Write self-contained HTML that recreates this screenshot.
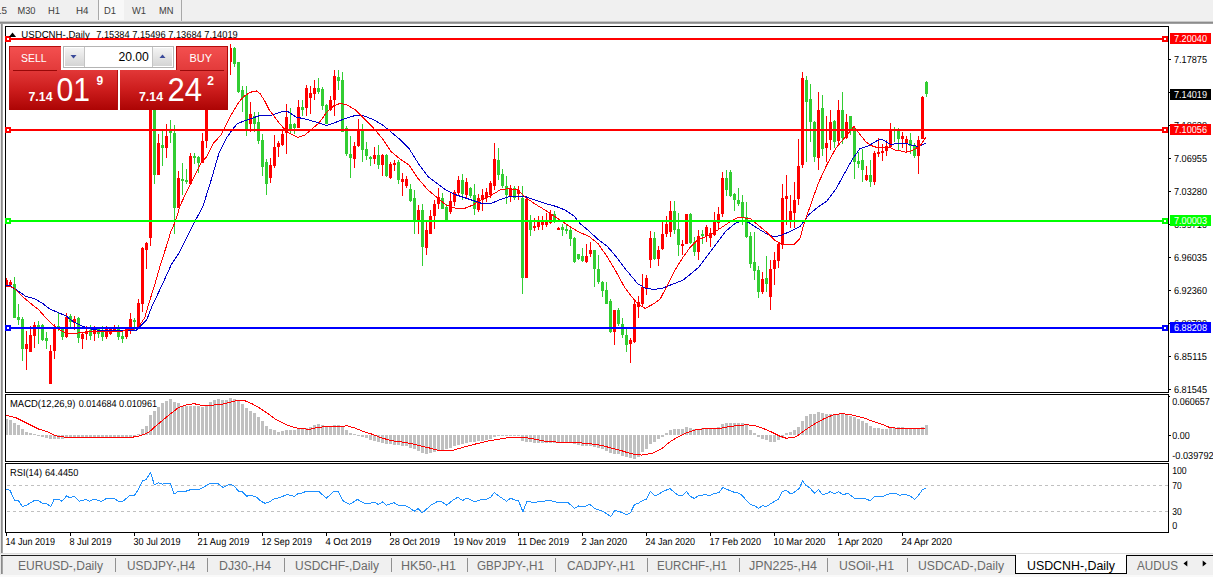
<!DOCTYPE html>
<html><head><meta charset="utf-8"><title>USDCNH-,Daily</title>
<style>
html,body{margin:0;padding:0;background:#fff;width:1213px;height:577px;overflow:hidden}
svg{display:block;position:absolute;left:0;top:0}
text{font-family:"Liberation Sans",sans-serif;white-space:pre}
</style></head><body>
<svg width="1213" height="577" viewBox="0 0 1213 577" shape-rendering="crispEdges">
<defs>
<linearGradient id="gsell" x1="0" y1="0" x2="0" y2="1"><stop offset="0" stop-color="#e23838"/><stop offset="0.5" stop-color="#cc1c1c"/><stop offset="1" stop-color="#ac0404"/></linearGradient>
<linearGradient id="gbtn" x1="0" y1="0" x2="0" y2="1"><stop offset="0" stop-color="#f45050"/><stop offset="1" stop-color="#e23a3a"/></linearGradient>
<linearGradient id="gsp" x1="0" y1="0" x2="0" y2="1"><stop offset="0" stop-color="#f4f4f4"/><stop offset="1" stop-color="#d4d4d4"/></linearGradient>
</defs>
<rect x="0" y="0" width="1213" height="577" fill="#fff"/>

<rect x="0" y="0" width="1213" height="21" fill="#f0f0f0"/>
<rect x="0" y="21" width="1213" height="1" fill="#c8c8c8"/>
<rect x="0" y="22" width="1213" height="1" fill="#8c8c8c"/>
<rect x="0" y="23" width="1213" height="1" fill="#a0a0a0"/>
<rect x="99" y="0" width="25" height="20" fill="#f8f8f8"/>
<rect x="98" y="0" width="1" height="20" fill="#a8a8a8"/>
<rect x="181" y="0" width="1" height="21" fill="#a8a8a8"/>
<text x="-4" y="14" font-size="10.2" fill="#404040" textLength="11" lengthAdjust="spacingAndGlyphs"  text-rendering="geometricPrecision">15</text>
<text x="17.5" y="14" font-size="10.2" fill="#404040" textLength="18" lengthAdjust="spacingAndGlyphs"  text-rendering="geometricPrecision">M30</text>
<text x="48" y="14" font-size="10.2" fill="#404040" textLength="12" lengthAdjust="spacingAndGlyphs"  text-rendering="geometricPrecision">H1</text>
<text x="76" y="14" font-size="10.2" fill="#404040" textLength="12.5" lengthAdjust="spacingAndGlyphs"  text-rendering="geometricPrecision">H4</text>
<text x="104" y="14" font-size="10.2" fill="#404040" textLength="12" lengthAdjust="spacingAndGlyphs"  text-rendering="geometricPrecision">D1</text>
<text x="132" y="14" font-size="10.2" fill="#404040" textLength="14" lengthAdjust="spacingAndGlyphs"  text-rendering="geometricPrecision">W1</text>
<text x="159" y="14" font-size="10.2" fill="#404040" textLength="14.5" lengthAdjust="spacingAndGlyphs"  text-rendering="geometricPrecision">MN</text>
<rect x="0" y="24" width="1" height="530" fill="#e6e6e6"/>
<rect x="1" y="24" width="1" height="530" fill="#8a8a8a"/>
<rect x="2" y="24" width="1" height="530" fill="#a6a6a6"/>
<path d="M5.5 26.5H1168.5V392.5H5.5Z" fill="none" stroke="#000" stroke-width="1"/>
<path d="M5.5 394.5H1168.5V461.5H5.5Z" fill="none" stroke="#000" stroke-width="1"/>
<path d="M5.5 463.5H1168.5V532.5H5.5Z" fill="none" stroke="#000" stroke-width="1"/>
<clipPath id="cm"><rect x="6" y="27" width="1162" height="365"/></clipPath>
<g clip-path="url(#cm)">
<rect x="6" y="278" width="1" height="9" fill="#ff0000"/>
<rect x="5" y="280" width="3" height="6" fill="#ff0000"/>
<rect x="10" y="280" width="1" height="7" fill="#ff0000"/>
<rect x="9" y="282" width="3" height="3" fill="#ff0000"/>
<rect x="14" y="277" width="1" height="41" fill="#32cd32"/>
<rect x="13" y="284" width="3" height="34" fill="#32cd32"/>
<rect x="18" y="304" width="1" height="21" fill="#32cd32"/>
<rect x="17" y="317" width="3" height="3" fill="#32cd32"/>
<rect x="22" y="317" width="1" height="44" fill="#32cd32"/>
<rect x="21" y="319" width="3" height="30" fill="#32cd32"/>
<rect x="26" y="331" width="1" height="39" fill="#ff0000"/>
<rect x="25" y="344" width="3" height="5" fill="#ff0000"/>
<rect x="30" y="326" width="1" height="26" fill="#ff0000"/>
<rect x="29" y="335" width="3" height="17" fill="#ff0000"/>
<rect x="34" y="322" width="1" height="26" fill="#ff0000"/>
<rect x="33" y="325" width="3" height="11" fill="#ff0000"/>
<rect x="38" y="321" width="1" height="23" fill="#32cd32"/>
<rect x="37" y="325" width="3" height="4" fill="#32cd32"/>
<rect x="42" y="324" width="1" height="17" fill="#32cd32"/>
<rect x="41" y="325" width="3" height="15" fill="#32cd32"/>
<rect x="46" y="332" width="1" height="17" fill="#32cd32"/>
<rect x="45" y="338" width="3" height="3" fill="#32cd32"/>
<rect x="50" y="345" width="1" height="39" fill="#ff0000"/>
<rect x="49" y="351" width="3" height="33" fill="#ff0000"/>
<rect x="54" y="324" width="1" height="35" fill="#ff0000"/>
<rect x="53" y="327" width="3" height="24" fill="#ff0000"/>
<rect x="58" y="312" width="1" height="19" fill="#32cd32"/>
<rect x="57" y="326" width="3" height="2" fill="#32cd32"/>
<rect x="62" y="327" width="1" height="13" fill="#32cd32"/>
<rect x="61" y="328" width="3" height="9" fill="#32cd32"/>
<rect x="66" y="313" width="1" height="25" fill="#ff0000"/>
<rect x="65" y="317" width="3" height="20" fill="#ff0000"/>
<rect x="70" y="314" width="1" height="14" fill="#32cd32"/>
<rect x="69" y="316" width="3" height="6" fill="#32cd32"/>
<rect x="74" y="316" width="1" height="14" fill="#ff0000"/>
<rect x="73" y="319" width="3" height="4" fill="#ff0000"/>
<rect x="78" y="317" width="1" height="26" fill="#32cd32"/>
<rect x="77" y="318" width="3" height="20" fill="#32cd32"/>
<rect x="82" y="332" width="1" height="17" fill="#ff0000"/>
<rect x="81" y="334" width="3" height="5" fill="#ff0000"/>
<rect x="86" y="326" width="1" height="14" fill="#ff0000"/>
<rect x="85" y="331" width="3" height="3" fill="#ff0000"/>
<rect x="90" y="325" width="1" height="15" fill="#32cd32"/>
<rect x="89" y="330" width="3" height="6" fill="#32cd32"/>
<rect x="94" y="326" width="1" height="15" fill="#ff0000"/>
<rect x="93" y="329" width="3" height="5" fill="#ff0000"/>
<rect x="98" y="327" width="1" height="11" fill="#32cd32"/>
<rect x="97" y="329" width="3" height="5" fill="#32cd32"/>
<rect x="102" y="326" width="1" height="15" fill="#32cd32"/>
<rect x="101" y="330" width="3" height="7" fill="#32cd32"/>
<rect x="106" y="326" width="1" height="13" fill="#ff0000"/>
<rect x="105" y="328" width="3" height="9" fill="#ff0000"/>
<rect x="110" y="327" width="1" height="8" fill="#ff0000"/>
<rect x="109" y="328" width="3" height="6" fill="#ff0000"/>
<rect x="114" y="325" width="1" height="7" fill="#ff0000"/>
<rect x="113" y="327" width="3" height="4" fill="#ff0000"/>
<rect x="118" y="325" width="1" height="15" fill="#32cd32"/>
<rect x="117" y="327" width="3" height="10" fill="#32cd32"/>
<rect x="122" y="332" width="1" height="11" fill="#32cd32"/>
<rect x="121" y="336" width="3" height="3" fill="#32cd32"/>
<rect x="126" y="327" width="1" height="12" fill="#ff0000"/>
<rect x="125" y="329" width="3" height="8" fill="#ff0000"/>
<rect x="130" y="313" width="1" height="21" fill="#ff0000"/>
<rect x="129" y="319" width="3" height="12" fill="#ff0000"/>
<rect x="134" y="318" width="1" height="12" fill="#32cd32"/>
<rect x="133" y="320" width="3" height="2" fill="#32cd32"/>
<rect x="138" y="299" width="1" height="28" fill="#ff0000"/>
<rect x="137" y="303" width="3" height="24" fill="#ff0000"/>
<rect x="142" y="247" width="1" height="65" fill="#ff0000"/>
<rect x="141" y="248" width="3" height="56" fill="#ff0000"/>
<rect x="146" y="242" width="1" height="27" fill="#ff0000"/>
<rect x="145" y="243" width="3" height="7" fill="#ff0000"/>
<rect x="150" y="100" width="1" height="146" fill="#ff0000"/>
<rect x="149" y="104" width="3" height="134" fill="#ff0000"/>
<rect x="154" y="90" width="1" height="94" fill="#32cd32"/>
<rect x="153" y="95" width="3" height="80" fill="#32cd32"/>
<rect x="158" y="134" width="1" height="41" fill="#ff0000"/>
<rect x="157" y="143" width="3" height="32" fill="#ff0000"/>
<rect x="162" y="129" width="1" height="37" fill="#32cd32"/>
<rect x="161" y="145" width="3" height="3" fill="#32cd32"/>
<rect x="166" y="124" width="1" height="34" fill="#ff0000"/>
<rect x="165" y="136" width="3" height="12" fill="#ff0000"/>
<rect x="170" y="120" width="1" height="23" fill="#32cd32"/>
<rect x="169" y="130" width="3" height="3" fill="#32cd32"/>
<rect x="174" y="125" width="1" height="109" fill="#32cd32"/>
<rect x="173" y="133" width="3" height="75" fill="#32cd32"/>
<rect x="178" y="171" width="1" height="37" fill="#ff0000"/>
<rect x="177" y="178" width="3" height="30" fill="#ff0000"/>
<rect x="182" y="163" width="1" height="32" fill="#32cd32"/>
<rect x="181" y="179" width="3" height="2" fill="#32cd32"/>
<rect x="186" y="169" width="1" height="15" fill="#32cd32"/>
<rect x="185" y="180" width="3" height="2" fill="#32cd32"/>
<rect x="190" y="153" width="1" height="32" fill="#ff0000"/>
<rect x="189" y="156" width="3" height="28" fill="#ff0000"/>
<rect x="194" y="153" width="1" height="11" fill="#32cd32"/>
<rect x="193" y="156" width="3" height="2" fill="#32cd32"/>
<rect x="198" y="156" width="1" height="17" fill="#32cd32"/>
<rect x="197" y="157" width="3" height="6" fill="#32cd32"/>
<rect x="202" y="133" width="1" height="30" fill="#ff0000"/>
<rect x="201" y="141" width="3" height="22" fill="#ff0000"/>
<rect x="206" y="100" width="1" height="48" fill="#ff0000"/>
<rect x="205" y="104" width="3" height="37" fill="#ff0000"/>
<rect x="230" y="44" width="1" height="31" fill="#ff0000"/>
<rect x="230" y="48" width="2" height="14" fill="#ff0000"/>
<rect x="234" y="47" width="1" height="20" fill="#32cd32"/>
<rect x="233" y="48" width="3" height="16" fill="#32cd32"/>
<rect x="238" y="62" width="1" height="31" fill="#32cd32"/>
<rect x="237" y="62" width="3" height="30" fill="#32cd32"/>
<rect x="242" y="86" width="1" height="26" fill="#32cd32"/>
<rect x="241" y="90" width="3" height="8" fill="#32cd32"/>
<rect x="246" y="86" width="1" height="50" fill="#32cd32"/>
<rect x="245" y="95" width="3" height="35" fill="#32cd32"/>
<rect x="250" y="102" width="1" height="30" fill="#ff0000"/>
<rect x="249" y="114" width="3" height="10" fill="#ff0000"/>
<rect x="254" y="112" width="1" height="20" fill="#32cd32"/>
<rect x="253" y="116" width="3" height="8" fill="#32cd32"/>
<rect x="258" y="112" width="1" height="32" fill="#32cd32"/>
<rect x="257" y="122" width="3" height="19" fill="#32cd32"/>
<rect x="262" y="134" width="1" height="42" fill="#32cd32"/>
<rect x="261" y="140" width="3" height="27" fill="#32cd32"/>
<rect x="266" y="159" width="1" height="36" fill="#32cd32"/>
<rect x="265" y="162" width="3" height="22" fill="#32cd32"/>
<rect x="270" y="158" width="1" height="25" fill="#ff0000"/>
<rect x="269" y="165" width="3" height="13" fill="#ff0000"/>
<rect x="274" y="135" width="1" height="33" fill="#ff0000"/>
<rect x="273" y="147" width="3" height="19" fill="#ff0000"/>
<rect x="278" y="141" width="1" height="16" fill="#ff0000"/>
<rect x="277" y="143" width="3" height="4" fill="#ff0000"/>
<rect x="282" y="130" width="1" height="16" fill="#ff0000"/>
<rect x="281" y="134" width="3" height="11" fill="#ff0000"/>
<rect x="286" y="104" width="1" height="50" fill="#ff0000"/>
<rect x="285" y="117" width="3" height="16" fill="#ff0000"/>
<rect x="290" y="108" width="1" height="25" fill="#32cd32"/>
<rect x="289" y="124" width="3" height="6" fill="#32cd32"/>
<rect x="294" y="123" width="1" height="11" fill="#32cd32"/>
<rect x="293" y="124" width="3" height="4" fill="#32cd32"/>
<rect x="298" y="100" width="1" height="28" fill="#ff0000"/>
<rect x="297" y="107" width="3" height="21" fill="#ff0000"/>
<rect x="302" y="100" width="1" height="16" fill="#32cd32"/>
<rect x="301" y="107" width="3" height="3" fill="#32cd32"/>
<rect x="306" y="85" width="1" height="31" fill="#ff0000"/>
<rect x="305" y="88" width="3" height="20" fill="#ff0000"/>
<rect x="310" y="86" width="1" height="28" fill="#ff0000"/>
<rect x="309" y="93" width="3" height="5" fill="#ff0000"/>
<rect x="314" y="80" width="1" height="20" fill="#ff0000"/>
<rect x="313" y="88" width="3" height="6" fill="#ff0000"/>
<rect x="318" y="78" width="1" height="16" fill="#32cd32"/>
<rect x="317" y="88" width="3" height="4" fill="#32cd32"/>
<rect x="322" y="87" width="1" height="23" fill="#32cd32"/>
<rect x="321" y="89" width="3" height="17" fill="#32cd32"/>
<rect x="326" y="104" width="1" height="20" fill="#32cd32"/>
<rect x="325" y="105" width="3" height="19" fill="#32cd32"/>
<rect x="330" y="96" width="1" height="15" fill="#ff0000"/>
<rect x="329" y="100" width="3" height="10" fill="#ff0000"/>
<rect x="334" y="70" width="1" height="46" fill="#ff0000"/>
<rect x="333" y="76" width="3" height="24" fill="#ff0000"/>
<rect x="338" y="70" width="1" height="20" fill="#32cd32"/>
<rect x="337" y="77" width="3" height="4" fill="#32cd32"/>
<rect x="342" y="72" width="1" height="60" fill="#32cd32"/>
<rect x="341" y="80" width="3" height="52" fill="#32cd32"/>
<rect x="346" y="126" width="1" height="30" fill="#32cd32"/>
<rect x="345" y="128" width="3" height="26" fill="#32cd32"/>
<rect x="350" y="136" width="1" height="42" fill="#32cd32"/>
<rect x="349" y="154" width="3" height="4" fill="#32cd32"/>
<rect x="354" y="142" width="1" height="26" fill="#ff0000"/>
<rect x="353" y="146" width="3" height="13" fill="#ff0000"/>
<rect x="358" y="119" width="1" height="28" fill="#ff0000"/>
<rect x="357" y="130" width="3" height="16" fill="#ff0000"/>
<rect x="362" y="124" width="1" height="38" fill="#32cd32"/>
<rect x="361" y="130" width="3" height="20" fill="#32cd32"/>
<rect x="366" y="142" width="1" height="18" fill="#32cd32"/>
<rect x="365" y="149" width="3" height="7" fill="#32cd32"/>
<rect x="370" y="156" width="1" height="10" fill="#32cd32"/>
<rect x="369" y="157" width="3" height="2" fill="#32cd32"/>
<rect x="374" y="147" width="1" height="17" fill="#ff0000"/>
<rect x="373" y="155" width="3" height="4" fill="#ff0000"/>
<rect x="378" y="145" width="1" height="24" fill="#32cd32"/>
<rect x="377" y="155" width="3" height="10" fill="#32cd32"/>
<rect x="382" y="154" width="1" height="22" fill="#ff0000"/>
<rect x="381" y="155" width="3" height="10" fill="#ff0000"/>
<rect x="386" y="154" width="1" height="23" fill="#32cd32"/>
<rect x="385" y="155" width="3" height="21" fill="#32cd32"/>
<rect x="390" y="162" width="1" height="17" fill="#ff0000"/>
<rect x="389" y="164" width="3" height="14" fill="#ff0000"/>
<rect x="394" y="160" width="1" height="11" fill="#ff0000"/>
<rect x="393" y="163" width="3" height="2" fill="#ff0000"/>
<rect x="398" y="160" width="1" height="24" fill="#32cd32"/>
<rect x="397" y="162" width="3" height="18" fill="#32cd32"/>
<rect x="402" y="173" width="1" height="23" fill="#ff0000"/>
<rect x="401" y="179" width="3" height="3" fill="#ff0000"/>
<rect x="406" y="176" width="1" height="12" fill="#ff0000"/>
<rect x="405" y="179" width="3" height="7" fill="#ff0000"/>
<rect x="410" y="184" width="1" height="18" fill="#32cd32"/>
<rect x="409" y="189" width="3" height="12" fill="#32cd32"/>
<rect x="414" y="190" width="1" height="44" fill="#32cd32"/>
<rect x="413" y="198" width="3" height="24" fill="#32cd32"/>
<rect x="418" y="205" width="1" height="29" fill="#ff0000"/>
<rect x="417" y="210" width="3" height="12" fill="#ff0000"/>
<rect x="422" y="204" width="1" height="62" fill="#32cd32"/>
<rect x="421" y="210" width="3" height="37" fill="#32cd32"/>
<rect x="426" y="220" width="1" height="35" fill="#ff0000"/>
<rect x="425" y="230" width="3" height="18" fill="#ff0000"/>
<rect x="430" y="210" width="1" height="24" fill="#ff0000"/>
<rect x="429" y="216" width="3" height="18" fill="#ff0000"/>
<rect x="434" y="200" width="1" height="29" fill="#ff0000"/>
<rect x="433" y="204" width="3" height="12" fill="#ff0000"/>
<rect x="438" y="188" width="1" height="21" fill="#ff0000"/>
<rect x="437" y="197" width="3" height="7" fill="#ff0000"/>
<rect x="442" y="193" width="1" height="16" fill="#32cd32"/>
<rect x="441" y="198" width="3" height="11" fill="#32cd32"/>
<rect x="446" y="204" width="1" height="16" fill="#32cd32"/>
<rect x="445" y="207" width="3" height="13" fill="#32cd32"/>
<rect x="450" y="192" width="1" height="22" fill="#ff0000"/>
<rect x="449" y="201" width="3" height="11" fill="#ff0000"/>
<rect x="454" y="190" width="1" height="16" fill="#ff0000"/>
<rect x="453" y="192" width="3" height="10" fill="#ff0000"/>
<rect x="458" y="176" width="1" height="19" fill="#ff0000"/>
<rect x="457" y="180" width="3" height="13" fill="#ff0000"/>
<rect x="462" y="174" width="1" height="26" fill="#32cd32"/>
<rect x="461" y="180" width="3" height="14" fill="#32cd32"/>
<rect x="466" y="178" width="1" height="20" fill="#ff0000"/>
<rect x="465" y="182" width="3" height="13" fill="#ff0000"/>
<rect x="470" y="187" width="1" height="11" fill="#32cd32"/>
<rect x="469" y="188" width="3" height="8" fill="#32cd32"/>
<rect x="474" y="184" width="1" height="31" fill="#32cd32"/>
<rect x="473" y="195" width="3" height="14" fill="#32cd32"/>
<rect x="478" y="194" width="1" height="18" fill="#ff0000"/>
<rect x="477" y="198" width="3" height="12" fill="#ff0000"/>
<rect x="482" y="189" width="1" height="22" fill="#ff0000"/>
<rect x="481" y="195" width="3" height="5" fill="#ff0000"/>
<rect x="486" y="188" width="1" height="14" fill="#ff0000"/>
<rect x="485" y="192" width="3" height="6" fill="#ff0000"/>
<rect x="490" y="181" width="1" height="17" fill="#ff0000"/>
<rect x="489" y="183" width="3" height="12" fill="#ff0000"/>
<rect x="494" y="143" width="1" height="47" fill="#ff0000"/>
<rect x="493" y="159" width="3" height="27" fill="#ff0000"/>
<rect x="498" y="148" width="1" height="32" fill="#32cd32"/>
<rect x="497" y="160" width="3" height="15" fill="#32cd32"/>
<rect x="502" y="169" width="1" height="19" fill="#32cd32"/>
<rect x="501" y="174" width="3" height="12" fill="#32cd32"/>
<rect x="506" y="176" width="1" height="28" fill="#32cd32"/>
<rect x="505" y="186" width="3" height="9" fill="#32cd32"/>
<rect x="510" y="185" width="1" height="17" fill="#ff0000"/>
<rect x="509" y="188" width="3" height="9" fill="#ff0000"/>
<rect x="514" y="186" width="1" height="14" fill="#32cd32"/>
<rect x="513" y="188" width="3" height="10" fill="#32cd32"/>
<rect x="518" y="186" width="1" height="14" fill="#ff0000"/>
<rect x="517" y="190" width="3" height="4" fill="#ff0000"/>
<rect x="522" y="186" width="1" height="108" fill="#32cd32"/>
<rect x="521" y="198" width="3" height="80" fill="#32cd32"/>
<rect x="526" y="198" width="1" height="80" fill="#ff0000"/>
<rect x="525" y="199" width="3" height="79" fill="#ff0000"/>
<rect x="530" y="215" width="1" height="21" fill="#32cd32"/>
<rect x="529" y="220" width="3" height="10" fill="#32cd32"/>
<rect x="534" y="218" width="1" height="13" fill="#ff0000"/>
<rect x="533" y="226" width="3" height="2" fill="#ff0000"/>
<rect x="538" y="216" width="1" height="14" fill="#ff0000"/>
<rect x="537" y="220" width="3" height="7" fill="#ff0000"/>
<rect x="542" y="216" width="1" height="14" fill="#ff0000"/>
<rect x="541" y="220" width="3" height="5" fill="#ff0000"/>
<rect x="546" y="213" width="1" height="14" fill="#ff0000"/>
<rect x="545" y="220" width="3" height="5" fill="#ff0000"/>
<rect x="550" y="210" width="1" height="14" fill="#ff0000"/>
<rect x="549" y="214" width="3" height="9" fill="#ff0000"/>
<rect x="554" y="211" width="1" height="12" fill="#32cd32"/>
<rect x="553" y="214" width="3" height="8" fill="#32cd32"/>
<rect x="558" y="227" width="1" height="3" fill="#ff0000"/>
<rect x="557" y="228" width="3" height="2" fill="#ff0000"/>
<rect x="562" y="224" width="1" height="12" fill="#32cd32"/>
<rect x="561" y="227" width="3" height="3" fill="#32cd32"/>
<rect x="566" y="224" width="1" height="10" fill="#32cd32"/>
<rect x="565" y="229" width="3" height="2" fill="#32cd32"/>
<rect x="570" y="227" width="1" height="19" fill="#32cd32"/>
<rect x="569" y="230" width="3" height="9" fill="#32cd32"/>
<rect x="574" y="237" width="1" height="26" fill="#32cd32"/>
<rect x="573" y="238" width="3" height="24" fill="#32cd32"/>
<rect x="578" y="254" width="1" height="6" fill="#32cd32"/>
<rect x="577" y="254" width="3" height="5" fill="#32cd32"/>
<rect x="582" y="248" width="1" height="14" fill="#32cd32"/>
<rect x="581" y="256" width="3" height="5" fill="#32cd32"/>
<rect x="586" y="244" width="1" height="19" fill="#ff0000"/>
<rect x="585" y="256" width="3" height="6" fill="#ff0000"/>
<rect x="590" y="242" width="1" height="15" fill="#ff0000"/>
<rect x="589" y="250" width="3" height="4" fill="#ff0000"/>
<rect x="594" y="250" width="1" height="37" fill="#32cd32"/>
<rect x="593" y="250" width="3" height="19" fill="#32cd32"/>
<rect x="598" y="255" width="1" height="29" fill="#32cd32"/>
<rect x="597" y="269" width="3" height="13" fill="#32cd32"/>
<rect x="602" y="281" width="1" height="16" fill="#32cd32"/>
<rect x="601" y="282" width="3" height="9" fill="#32cd32"/>
<rect x="606" y="282" width="1" height="22" fill="#32cd32"/>
<rect x="605" y="290" width="3" height="14" fill="#32cd32"/>
<rect x="610" y="299" width="1" height="34" fill="#32cd32"/>
<rect x="609" y="301" width="3" height="31" fill="#32cd32"/>
<rect x="614" y="310" width="1" height="35" fill="#ff0000"/>
<rect x="613" y="310" width="3" height="22" fill="#ff0000"/>
<rect x="618" y="308" width="1" height="18" fill="#32cd32"/>
<rect x="617" y="310" width="3" height="14" fill="#32cd32"/>
<rect x="622" y="318" width="1" height="20" fill="#32cd32"/>
<rect x="621" y="324" width="3" height="11" fill="#32cd32"/>
<rect x="626" y="329" width="1" height="23" fill="#32cd32"/>
<rect x="625" y="335" width="3" height="10" fill="#32cd32"/>
<rect x="630" y="338" width="1" height="25" fill="#ff0000"/>
<rect x="629" y="340" width="3" height="4" fill="#ff0000"/>
<rect x="634" y="301" width="1" height="42" fill="#ff0000"/>
<rect x="633" y="304" width="3" height="38" fill="#ff0000"/>
<rect x="638" y="296" width="1" height="22" fill="#ff0000"/>
<rect x="637" y="302" width="3" height="5" fill="#ff0000"/>
<rect x="642" y="274" width="1" height="32" fill="#ff0000"/>
<rect x="641" y="287" width="3" height="17" fill="#ff0000"/>
<rect x="646" y="275" width="1" height="20" fill="#ff0000"/>
<rect x="645" y="278" width="3" height="11" fill="#ff0000"/>
<rect x="650" y="231" width="1" height="37" fill="#ff0000"/>
<rect x="649" y="238" width="3" height="22" fill="#ff0000"/>
<rect x="654" y="232" width="1" height="28" fill="#32cd32"/>
<rect x="653" y="238" width="3" height="21" fill="#32cd32"/>
<rect x="658" y="246" width="1" height="20" fill="#ff0000"/>
<rect x="657" y="250" width="3" height="9" fill="#ff0000"/>
<rect x="662" y="220" width="1" height="30" fill="#ff0000"/>
<rect x="661" y="234" width="3" height="15" fill="#ff0000"/>
<rect x="666" y="216" width="1" height="21" fill="#ff0000"/>
<rect x="665" y="224" width="3" height="10" fill="#ff0000"/>
<rect x="670" y="201" width="1" height="36" fill="#ff0000"/>
<rect x="669" y="211" width="3" height="21" fill="#ff0000"/>
<rect x="674" y="201" width="1" height="33" fill="#32cd32"/>
<rect x="673" y="211" width="3" height="19" fill="#32cd32"/>
<rect x="678" y="213" width="1" height="43" fill="#32cd32"/>
<rect x="677" y="229" width="3" height="16" fill="#32cd32"/>
<rect x="682" y="240" width="1" height="15" fill="#ff0000"/>
<rect x="681" y="244" width="3" height="2" fill="#ff0000"/>
<rect x="686" y="214" width="1" height="30" fill="#ff0000"/>
<rect x="685" y="214" width="3" height="30" fill="#ff0000"/>
<rect x="690" y="213" width="1" height="31" fill="#32cd32"/>
<rect x="689" y="214" width="3" height="29" fill="#32cd32"/>
<rect x="694" y="237" width="1" height="19" fill="#32cd32"/>
<rect x="693" y="242" width="3" height="10" fill="#32cd32"/>
<rect x="698" y="230" width="1" height="30" fill="#ff0000"/>
<rect x="697" y="236" width="3" height="16" fill="#ff0000"/>
<rect x="702" y="230" width="1" height="14" fill="#32cd32"/>
<rect x="701" y="234" width="3" height="2" fill="#32cd32"/>
<rect x="706" y="225" width="1" height="17" fill="#ff0000"/>
<rect x="705" y="227" width="3" height="9" fill="#ff0000"/>
<rect x="710" y="228" width="1" height="19" fill="#ff0000"/>
<rect x="709" y="233" width="3" height="5" fill="#ff0000"/>
<rect x="714" y="212" width="1" height="24" fill="#ff0000"/>
<rect x="713" y="220" width="3" height="15" fill="#ff0000"/>
<rect x="718" y="207" width="1" height="22" fill="#ff0000"/>
<rect x="717" y="214" width="3" height="9" fill="#ff0000"/>
<rect x="722" y="172" width="1" height="45" fill="#ff0000"/>
<rect x="721" y="178" width="3" height="36" fill="#ff0000"/>
<rect x="726" y="170" width="1" height="26" fill="#32cd32"/>
<rect x="725" y="178" width="3" height="12" fill="#32cd32"/>
<rect x="730" y="170" width="1" height="27" fill="#32cd32"/>
<rect x="729" y="172" width="3" height="24" fill="#32cd32"/>
<rect x="734" y="193" width="1" height="18" fill="#32cd32"/>
<rect x="733" y="194" width="3" height="6" fill="#32cd32"/>
<rect x="738" y="188" width="1" height="18" fill="#32cd32"/>
<rect x="737" y="200" width="3" height="4" fill="#32cd32"/>
<rect x="742" y="195" width="1" height="30" fill="#32cd32"/>
<rect x="741" y="202" width="3" height="15" fill="#32cd32"/>
<rect x="746" y="202" width="1" height="36" fill="#32cd32"/>
<rect x="745" y="217" width="3" height="20" fill="#32cd32"/>
<rect x="750" y="232" width="1" height="36" fill="#32cd32"/>
<rect x="749" y="236" width="3" height="28" fill="#32cd32"/>
<rect x="754" y="232" width="1" height="48" fill="#32cd32"/>
<rect x="753" y="262" width="3" height="9" fill="#32cd32"/>
<rect x="758" y="266" width="1" height="32" fill="#32cd32"/>
<rect x="757" y="270" width="3" height="22" fill="#32cd32"/>
<rect x="762" y="272" width="1" height="22" fill="#ff0000"/>
<rect x="761" y="279" width="3" height="13" fill="#ff0000"/>
<rect x="766" y="256" width="1" height="36" fill="#32cd32"/>
<rect x="765" y="278" width="3" height="6" fill="#32cd32"/>
<rect x="770" y="260" width="1" height="50" fill="#ff0000"/>
<rect x="769" y="269" width="3" height="28" fill="#ff0000"/>
<rect x="774" y="252" width="1" height="33" fill="#ff0000"/>
<rect x="773" y="260" width="3" height="9" fill="#ff0000"/>
<rect x="778" y="242" width="1" height="26" fill="#ff0000"/>
<rect x="777" y="244" width="3" height="17" fill="#ff0000"/>
<rect x="782" y="184" width="1" height="65" fill="#ff0000"/>
<rect x="781" y="198" width="3" height="47" fill="#ff0000"/>
<rect x="786" y="175" width="1" height="50" fill="#ff0000"/>
<rect x="785" y="196" width="3" height="3" fill="#ff0000"/>
<rect x="790" y="195" width="1" height="33" fill="#ff0000"/>
<rect x="789" y="211" width="3" height="9" fill="#ff0000"/>
<rect x="794" y="182" width="1" height="46" fill="#ff0000"/>
<rect x="793" y="200" width="3" height="13" fill="#ff0000"/>
<rect x="798" y="139" width="1" height="66" fill="#ff0000"/>
<rect x="797" y="166" width="3" height="33" fill="#ff0000"/>
<rect x="802" y="72" width="1" height="96" fill="#ff0000"/>
<rect x="801" y="78" width="3" height="87" fill="#ff0000"/>
<rect x="806" y="76" width="1" height="86" fill="#32cd32"/>
<rect x="805" y="80" width="3" height="22" fill="#32cd32"/>
<rect x="810" y="84" width="1" height="58" fill="#32cd32"/>
<rect x="809" y="99" width="3" height="23" fill="#32cd32"/>
<rect x="814" y="121" width="1" height="41" fill="#32cd32"/>
<rect x="813" y="122" width="3" height="35" fill="#32cd32"/>
<rect x="818" y="92" width="1" height="78" fill="#ff0000"/>
<rect x="817" y="110" width="3" height="48" fill="#ff0000"/>
<rect x="822" y="95" width="1" height="61" fill="#32cd32"/>
<rect x="821" y="108" width="3" height="41" fill="#32cd32"/>
<rect x="826" y="116" width="1" height="46" fill="#ff0000"/>
<rect x="825" y="143" width="3" height="5" fill="#ff0000"/>
<rect x="830" y="110" width="1" height="40" fill="#ff0000"/>
<rect x="829" y="122" width="3" height="18" fill="#ff0000"/>
<rect x="834" y="120" width="1" height="28" fill="#32cd32"/>
<rect x="833" y="121" width="3" height="21" fill="#32cd32"/>
<rect x="838" y="100" width="1" height="45" fill="#ff0000"/>
<rect x="837" y="110" width="3" height="31" fill="#ff0000"/>
<rect x="842" y="92" width="1" height="52" fill="#32cd32"/>
<rect x="841" y="110" width="3" height="28" fill="#32cd32"/>
<rect x="846" y="114" width="1" height="25" fill="#ff0000"/>
<rect x="845" y="122" width="3" height="16" fill="#ff0000"/>
<rect x="850" y="116" width="1" height="19" fill="#32cd32"/>
<rect x="849" y="116" width="3" height="14" fill="#32cd32"/>
<rect x="854" y="126" width="1" height="53" fill="#32cd32"/>
<rect x="853" y="128" width="3" height="34" fill="#32cd32"/>
<rect x="858" y="152" width="1" height="16" fill="#32cd32"/>
<rect x="857" y="161" width="3" height="3" fill="#32cd32"/>
<rect x="862" y="149" width="1" height="33" fill="#32cd32"/>
<rect x="861" y="160" width="3" height="10" fill="#32cd32"/>
<rect x="866" y="166" width="1" height="15" fill="#ff0000"/>
<rect x="865" y="175" width="3" height="5" fill="#ff0000"/>
<rect x="870" y="160" width="1" height="27" fill="#32cd32"/>
<rect x="869" y="175" width="3" height="7" fill="#32cd32"/>
<rect x="874" y="151" width="1" height="34" fill="#ff0000"/>
<rect x="873" y="153" width="3" height="29" fill="#ff0000"/>
<rect x="878" y="138" width="1" height="19" fill="#ff0000"/>
<rect x="877" y="152" width="3" height="2" fill="#ff0000"/>
<rect x="882" y="144" width="1" height="17" fill="#ff0000"/>
<rect x="881" y="151" width="3" height="2" fill="#ff0000"/>
<rect x="886" y="140" width="1" height="16" fill="#ff0000"/>
<rect x="885" y="146" width="3" height="5" fill="#ff0000"/>
<rect x="890" y="123" width="1" height="25" fill="#ff0000"/>
<rect x="889" y="129" width="3" height="18" fill="#ff0000"/>
<rect x="894" y="127" width="1" height="15" fill="#32cd32"/>
<rect x="893" y="129" width="3" height="2" fill="#32cd32"/>
<rect x="898" y="128" width="1" height="23" fill="#32cd32"/>
<rect x="897" y="130" width="3" height="9" fill="#32cd32"/>
<rect x="902" y="132" width="1" height="16" fill="#ff0000"/>
<rect x="901" y="136" width="3" height="3" fill="#ff0000"/>
<rect x="906" y="136" width="1" height="17" fill="#ff0000"/>
<rect x="905" y="139" width="3" height="5" fill="#ff0000"/>
<rect x="910" y="133" width="1" height="21" fill="#32cd32"/>
<rect x="909" y="140" width="3" height="6" fill="#32cd32"/>
<rect x="914" y="143" width="1" height="15" fill="#32cd32"/>
<rect x="913" y="146" width="3" height="10" fill="#32cd32"/>
<rect x="918" y="136" width="1" height="38" fill="#ff0000"/>
<rect x="917" y="140" width="3" height="16" fill="#ff0000"/>
<rect x="922" y="96" width="1" height="43" fill="#ff0000"/>
<rect x="921" y="97" width="3" height="42" fill="#ff0000"/>
<rect x="926" y="81" width="1" height="16" fill="#32cd32"/>
<rect x="925" y="82" width="3" height="12" fill="#32cd32"/>
</g>
<g clip-path="url(#cm)">
<polyline points="6,285 10,285.5 18,291 26,296.5 34,298.5 42,303 50,309 58,312.5 66,316 74,322 82,326 88,328.5 100,330.6 136,330.6 139.9,326.7 146.8,319.7 151.8,306.7 159.8,289.8 171.7,263.9 179.7,251.9 183.5,244.4 194,223 202.8,206.7 210.3,182.9 219.1,152.7 226.7,137.7 232.9,128.9 237.5,123.6 245,120.6 260,115.5 272,115 281,112 287,111 296,117 305,119 314,121.5 319,123 326.5,125.4 334,123 343,119.4 355,115.5 364,116 373,119.4 382,124.5 391,132 400,139.5 409,148.5 419,164.5 428,176.5 437,183.4 446,190 455,194.5 464,197.5 473,200.5 482,203.5 491,203.5 500,199.6 509,196.6 518,196 525.5,196.6 529,198 538,201 547,204 556,206.4 565,210 574,216 580,223.5 589,231 598,239.4 607,246 616,256.5 625,268.5 632.5,277.5 637.5,283.5 645,288 654,289.5 663,288 672,284.4 682.5,280.5 690,274.5 699,267 708,255 717,243 726,231 735,223.5 742.5,220.5 749,222.6 758,228.6 767,234 774.5,237 782,235 791,231 800,226.5 809,214.5 818,207 827,201 836,189 845,172.5 852.5,159 860,148.6 868.3,145.9 872.5,143.5 876,141.2 880.7,139.3 883.8,140.2 888.5,143.3 891.6,144.5 896.8,143.5 902,143.8 907.2,143.8 911.4,145.1 916.6,146.2 919.7,145.9 922.8,144.3 925.9,143.3" fill="none" stroke="#0000c8" stroke-width="1" shape-rendering="crispEdges" stroke-linejoin="round" />
<polyline points="6,286 10,286.5 14,288 22,296 30,303 38,309 46,318 54,326 60,330 66,333 74,333.5 82,332.5 90,331.5 100,331.6 120,331.5 134,329 137.9,327.6 144.8,317.7 147.8,306.7 153.8,287.8 159.8,266.9 166.8,245 170.7,232 175.2,221.8 180.2,205.4 190.3,184.1 201.6,161.5 206.6,157.2 212.9,143.9 221,135 230,117 239,102 243.5,96.6 248,93.6 252.5,91.6 256.5,91 260,93.6 264.5,100.5 269,109.5 278,121.5 287,132 297.5,137.4 305,135 312.5,128.4 319,123 326.5,112.5 334,105.6 340,103.5 346,104.4 355,109.5 364,118.5 373,127.5 382,138 391,151.5 400,159 409,165 418,178.5 428,190 437,197.5 446,205 455,208 464,208.6 473,205 482,199.6 491,195.4 500,190 509,188.5 518,190 525.5,197.5 530,200.5 535,204 544,209.4 553,215.4 562,221.4 571,227.4 580,232.5 589,236.4 598,243.6 607,256.5 616,271.5 625,288 632.5,297.6 637.5,303.6 645,308.4 652.5,304.5 660,299.4 667.5,285 675,270 682.5,258 690,247.5 697.5,240 705,237 714,232.5 723,226.5 732,220.5 738,217.5 750,218.4 758,225 767,232.5 774.5,240 782,244.5 794,244.5 800,238.5 804.5,222 809,209.5 818,184 827,164.5 836,148 845,137.5 854,126.4 860,134.5 866,142 871,145.5 876,147.2 887.4,147.2 890.6,148 894.7,150 899.9,150.8 905.1,152.1 910.3,151.6 915.5,148.7 920.7,144.8 923.9,140.2 925.7,137.6" fill="none" stroke="#ff0000" stroke-width="1" shape-rendering="crispEdges" stroke-linejoin="round" />
</g>
<rect x="1169" y="59" width="2" height="1" fill="#000"/>
<text x="1174" y="63" font-size="10.2" fill="#000" textLength="33" lengthAdjust="spacingAndGlyphs"  text-rendering="geometricPrecision">7.17875</text>
<rect x="1169" y="125" width="2" height="1" fill="#000"/>
<text x="1174" y="129" font-size="10.2" fill="#000" textLength="33" lengthAdjust="spacingAndGlyphs"  text-rendering="geometricPrecision">7.10630</text>
<rect x="1169" y="158" width="2" height="1" fill="#000"/>
<text x="1174" y="162" font-size="10.2" fill="#000" textLength="33" lengthAdjust="spacingAndGlyphs"  text-rendering="geometricPrecision">7.06955</text>
<rect x="1169" y="191" width="2" height="1" fill="#000"/>
<text x="1174" y="195" font-size="10.2" fill="#000" textLength="33" lengthAdjust="spacingAndGlyphs"  text-rendering="geometricPrecision">7.03280</text>
<rect x="1169" y="224" width="2" height="1" fill="#000"/>
<text x="1174" y="228" font-size="10.2" fill="#000" textLength="33" lengthAdjust="spacingAndGlyphs"  text-rendering="geometricPrecision">6.99710</text>
<rect x="1169" y="257" width="2" height="1" fill="#000"/>
<text x="1174" y="261" font-size="10.2" fill="#000" textLength="33" lengthAdjust="spacingAndGlyphs"  text-rendering="geometricPrecision">6.96035</text>
<rect x="1169" y="290" width="2" height="1" fill="#000"/>
<text x="1174" y="294" font-size="10.2" fill="#000" textLength="33" lengthAdjust="spacingAndGlyphs"  text-rendering="geometricPrecision">6.92360</text>
<rect x="1169" y="323" width="2" height="1" fill="#000"/>
<text x="1174" y="327" font-size="10.2" fill="#000" textLength="33" lengthAdjust="spacingAndGlyphs"  text-rendering="geometricPrecision">6.88790</text>
<rect x="1169" y="356" width="2" height="1" fill="#000"/>
<text x="1174" y="360" font-size="10.2" fill="#000" textLength="33" lengthAdjust="spacingAndGlyphs"  text-rendering="geometricPrecision">6.85115</text>
<rect x="1169" y="389" width="2" height="1" fill="#000"/>
<text x="1174" y="393" font-size="10.2" fill="#000" textLength="33" lengthAdjust="spacingAndGlyphs"  text-rendering="geometricPrecision">6.81545</text>
<rect x="6" y="38" width="1162" height="2" fill="#ff0000"/>
<rect x="5" y="36" width="6" height="6" fill="#ff0000"/><rect x="7" y="38" width="2" height="2" fill="#fff"/>
<rect x="1162" y="36" width="6" height="6" fill="#ff0000"/><rect x="1164" y="38" width="2" height="2" fill="#fff"/>
<rect x="1170" y="33" width="41" height="11" fill="#ff0000"/>
<text x="1174" y="42" font-size="10.2" fill="#fff" textLength="33" lengthAdjust="spacingAndGlyphs"  text-rendering="geometricPrecision">7.20040</text>
<rect x="6" y="129" width="1162" height="2" fill="#ff0000"/>
<rect x="5" y="127" width="6" height="6" fill="#ff0000"/><rect x="7" y="129" width="2" height="2" fill="#fff"/>
<rect x="1162" y="127" width="6" height="6" fill="#ff0000"/><rect x="1164" y="129" width="2" height="2" fill="#fff"/>
<rect x="1170" y="124" width="41" height="11" fill="#ff0000"/>
<text x="1174" y="133" font-size="10.2" fill="#fff" textLength="33" lengthAdjust="spacingAndGlyphs"  text-rendering="geometricPrecision">7.10056</text>
<rect x="6" y="220" width="1162" height="2" fill="#00ff00"/>
<rect x="5" y="218" width="6" height="6" fill="#00ff00"/><rect x="7" y="220" width="2" height="2" fill="#fff"/>
<rect x="1162" y="218" width="6" height="6" fill="#00ff00"/><rect x="1164" y="220" width="2" height="2" fill="#fff"/>
<rect x="1170" y="215" width="41" height="11" fill="#00ff00"/>
<text x="1174" y="224" font-size="10.2" fill="#fff" textLength="33" lengthAdjust="spacingAndGlyphs"  text-rendering="geometricPrecision">7.00003</text>
<rect x="6" y="327" width="1162" height="2" fill="#0000ff"/>
<rect x="5" y="325" width="6" height="6" fill="#0000ff"/><rect x="7" y="327" width="2" height="2" fill="#fff"/>
<rect x="1162" y="325" width="6" height="6" fill="#0000ff"/><rect x="1164" y="327" width="2" height="2" fill="#fff"/>
<rect x="1170" y="322" width="41" height="11" fill="#0000ff"/>
<text x="1174" y="331" font-size="10.2" fill="#fff" textLength="33" lengthAdjust="spacingAndGlyphs"  text-rendering="geometricPrecision">6.88208</text>
<rect x="1170" y="89" width="41" height="11" fill="#000"/>
<text x="1174" y="98" font-size="10.2" fill="#fff" textLength="33" lengthAdjust="spacingAndGlyphs"  text-rendering="geometricPrecision">7.14019</text>
<rect x="1169" y="92" width="1" height="1" fill="#000"/>
<path d="M8.9 37 L12.5 32.6 L16.1 37Z" fill="#000" shape-rendering="geometricPrecision"/>
<text x="21.3" y="38" font-size="10.2" fill="#000" textLength="68.5" lengthAdjust="spacingAndGlyphs"  text-rendering="geometricPrecision">USDCNH-,Daily</text>
<text x="96.2" y="38" font-size="10.2" fill="#000" textLength="141.5" lengthAdjust="spacingAndGlyphs"  text-rendering="geometricPrecision">7.15384 7.15496 7.13684 7.14019</text>
<g>
<rect x="9" y="46" width="52" height="25" fill="url(#gbtn)"/>
<rect x="176" y="46" width="52" height="25" fill="url(#gbtn)"/>
<path d="M9.5 70V46.5H61" stroke="#b40a0a" fill="none"/><path d="M176.5 70V46.5H228" stroke="#b40a0a" fill="none"/>
<rect x="9" y="70" width="109" height="40" fill="url(#gsell)"/>
<rect x="120" y="70" width="108" height="40" fill="url(#gsell)"/>
<rect x="227" y="46" width="1" height="64" fill="#a80808"/><rect x="117" y="70" width="1" height="40" fill="#b01010"/>
<rect x="13" y="70" width="44" height="1" fill="#980808"/>
<rect x="180" y="70" width="44" height="1" fill="#980808"/>
<rect x="61" y="46" width="115" height="24" fill="#fff"/>
<rect x="63.5" y="46.5" width="110" height="21" fill="#fff" stroke="#b4b4b4" stroke-width="1"/>
<rect x="65" y="48" width="19" height="18" fill="url(#gsp)"/><rect x="84" y="47" width="1" height="20" fill="#c4c4c4"/>
<rect x="153" y="48" width="19" height="18" fill="url(#gsp)"/><rect x="152" y="47" width="1" height="20" fill="#c4c4c4"/>
<path d="M70.5 55 L76.5 55 L73.5 58.5Z" fill="#3a4a9a" shape-rendering="geometricPrecision"/>
<path d="M159.5 58 L165.5 58 L162.5 54.5Z" fill="#3a4a9a" shape-rendering="geometricPrecision"/>
<text x="118.4" y="61" font-size="12" fill="#000" textLength="30.5" lengthAdjust="spacingAndGlyphs" >20.00</text>
<text x="21" y="61.5" font-size="11.7" fill="#fff" textLength="25.5" lengthAdjust="spacingAndGlyphs" >SELL</text>
<text x="189.5" y="61.5" font-size="11.7" fill="#fff" textLength="22.5" lengthAdjust="spacingAndGlyphs" >BUY</text>
<text x="28.5" y="101" font-size="12" fill="#fff" textLength="24" lengthAdjust="spacingAndGlyphs" font-weight="bold" >7.14</text>
<text x="56.5" y="101" font-size="33.5" fill="#fff" textLength="33.5" lengthAdjust="spacingAndGlyphs" >01</text>
<text x="96.5" y="85" font-size="12" fill="#fff" font-weight="bold" >9</text>
<text x="139" y="101" font-size="12" fill="#fff" textLength="24" lengthAdjust="spacingAndGlyphs" font-weight="bold" >7.14</text>
<text x="167.5" y="101" font-size="33.5" fill="#fff" textLength="34.5" lengthAdjust="spacingAndGlyphs" >24</text>
<text x="207.3" y="85" font-size="12" fill="#fff" font-weight="bold" >2</text>
</g>
<clipPath id="c2"><rect x="6" y="395" width="1162" height="66"/></clipPath>
<g clip-path="url(#c2)">
<rect x="5" y="419" width="3" height="16" fill="#c0c0c0"/>
<rect x="9" y="420" width="3" height="15" fill="#c0c0c0"/>
<rect x="13" y="423" width="3" height="12" fill="#c0c0c0"/>
<rect x="17" y="425" width="3" height="10" fill="#c0c0c0"/>
<rect x="21" y="429" width="3" height="6" fill="#c0c0c0"/>
<rect x="25" y="432" width="3" height="3" fill="#c0c0c0"/>
<rect x="29" y="433" width="3" height="2" fill="#c0c0c0"/>
<rect x="33" y="434" width="3" height="1" fill="#c0c0c0"/>
<rect x="37" y="435" width="3" height="1" fill="#c0c0c0"/>
<rect x="41" y="435" width="3" height="2" fill="#c0c0c0"/>
<rect x="45" y="435" width="3" height="3" fill="#c0c0c0"/>
<rect x="49" y="435" width="3" height="4" fill="#c0c0c0"/>
<rect x="53" y="435" width="3" height="4" fill="#c0c0c0"/>
<rect x="57" y="435" width="3" height="4" fill="#c0c0c0"/>
<rect x="61" y="435" width="3" height="4" fill="#c0c0c0"/>
<rect x="65" y="435" width="3" height="2" fill="#c0c0c0"/>
<rect x="69" y="435" width="3" height="2" fill="#c0c0c0"/>
<rect x="73" y="435" width="3" height="2" fill="#c0c0c0"/>
<rect x="77" y="435" width="3" height="2" fill="#c0c0c0"/>
<rect x="81" y="435" width="3" height="2" fill="#c0c0c0"/>
<rect x="85" y="435" width="3" height="2" fill="#c0c0c0"/>
<rect x="89" y="435" width="3" height="2" fill="#c0c0c0"/>
<rect x="93" y="435" width="3" height="2" fill="#c0c0c0"/>
<rect x="97" y="435" width="3" height="2" fill="#c0c0c0"/>
<rect x="101" y="435" width="3" height="2" fill="#c0c0c0"/>
<rect x="105" y="435" width="3" height="2" fill="#c0c0c0"/>
<rect x="109" y="435" width="3" height="2" fill="#c0c0c0"/>
<rect x="113" y="435" width="3" height="2" fill="#c0c0c0"/>
<rect x="117" y="435" width="3" height="2" fill="#c0c0c0"/>
<rect x="121" y="435" width="3" height="2" fill="#c0c0c0"/>
<rect x="125" y="435" width="3" height="2" fill="#c0c0c0"/>
<rect x="129" y="435" width="3" height="2" fill="#c0c0c0"/>
<rect x="133" y="435" width="3" height="2" fill="#c0c0c0"/>
<rect x="137" y="434" width="3" height="1" fill="#c0c0c0"/>
<rect x="141" y="429" width="3" height="6" fill="#c0c0c0"/>
<rect x="145" y="426" width="3" height="9" fill="#c0c0c0"/>
<rect x="149" y="415" width="3" height="20" fill="#c0c0c0"/>
<rect x="153" y="411" width="3" height="24" fill="#c0c0c0"/>
<rect x="157" y="407" width="3" height="28" fill="#c0c0c0"/>
<rect x="161" y="403" width="3" height="32" fill="#c0c0c0"/>
<rect x="165" y="401" width="3" height="34" fill="#c0c0c0"/>
<rect x="169" y="399" width="3" height="36" fill="#c0c0c0"/>
<rect x="173" y="402" width="3" height="33" fill="#c0c0c0"/>
<rect x="177" y="403" width="3" height="32" fill="#c0c0c0"/>
<rect x="181" y="406" width="3" height="29" fill="#c0c0c0"/>
<rect x="185" y="406" width="3" height="29" fill="#c0c0c0"/>
<rect x="189" y="406" width="3" height="29" fill="#c0c0c0"/>
<rect x="193" y="406" width="3" height="29" fill="#c0c0c0"/>
<rect x="197" y="406" width="3" height="29" fill="#c0c0c0"/>
<rect x="201" y="407" width="3" height="28" fill="#c0c0c0"/>
<rect x="205" y="406" width="3" height="29" fill="#c0c0c0"/>
<rect x="209" y="402" width="3" height="33" fill="#c0c0c0"/>
<rect x="213" y="400" width="3" height="35" fill="#c0c0c0"/>
<rect x="217" y="399" width="3" height="36" fill="#c0c0c0"/>
<rect x="221" y="400" width="3" height="35" fill="#c0c0c0"/>
<rect x="225" y="400" width="3" height="35" fill="#c0c0c0"/>
<rect x="229" y="398" width="3" height="37" fill="#c0c0c0"/>
<rect x="233" y="399" width="3" height="36" fill="#c0c0c0"/>
<rect x="237" y="401" width="3" height="34" fill="#c0c0c0"/>
<rect x="241" y="404" width="3" height="31" fill="#c0c0c0"/>
<rect x="245" y="408" width="3" height="27" fill="#c0c0c0"/>
<rect x="249" y="411" width="3" height="24" fill="#c0c0c0"/>
<rect x="253" y="413" width="3" height="22" fill="#c0c0c0"/>
<rect x="257" y="417" width="3" height="18" fill="#c0c0c0"/>
<rect x="261" y="421" width="3" height="14" fill="#c0c0c0"/>
<rect x="265" y="426" width="3" height="9" fill="#c0c0c0"/>
<rect x="269" y="429" width="3" height="6" fill="#c0c0c0"/>
<rect x="273" y="430" width="3" height="5" fill="#c0c0c0"/>
<rect x="277" y="432" width="3" height="3" fill="#c0c0c0"/>
<rect x="281" y="431" width="3" height="4" fill="#c0c0c0"/>
<rect x="285" y="430" width="3" height="5" fill="#c0c0c0"/>
<rect x="289" y="430" width="3" height="5" fill="#c0c0c0"/>
<rect x="293" y="430" width="3" height="5" fill="#c0c0c0"/>
<rect x="297" y="429" width="3" height="6" fill="#c0c0c0"/>
<rect x="301" y="428" width="3" height="7" fill="#c0c0c0"/>
<rect x="305" y="428" width="3" height="7" fill="#c0c0c0"/>
<rect x="309" y="427" width="3" height="8" fill="#c0c0c0"/>
<rect x="313" y="425" width="3" height="10" fill="#c0c0c0"/>
<rect x="317" y="424" width="3" height="11" fill="#c0c0c0"/>
<rect x="321" y="425" width="3" height="10" fill="#c0c0c0"/>
<rect x="325" y="426" width="3" height="9" fill="#c0c0c0"/>
<rect x="329" y="426" width="3" height="9" fill="#c0c0c0"/>
<rect x="333" y="425" width="3" height="10" fill="#c0c0c0"/>
<rect x="337" y="425" width="3" height="10" fill="#c0c0c0"/>
<rect x="341" y="426" width="3" height="9" fill="#c0c0c0"/>
<rect x="345" y="430" width="3" height="5" fill="#c0c0c0"/>
<rect x="349" y="433" width="3" height="2" fill="#c0c0c0"/>
<rect x="353" y="434" width="3" height="1" fill="#c0c0c0"/>
<rect x="357" y="435" width="3" height="1" fill="#c0c0c0"/>
<rect x="361" y="435" width="3" height="2" fill="#c0c0c0"/>
<rect x="365" y="435" width="3" height="3" fill="#c0c0c0"/>
<rect x="369" y="435" width="3" height="5" fill="#c0c0c0"/>
<rect x="373" y="435" width="3" height="6" fill="#c0c0c0"/>
<rect x="377" y="435" width="3" height="7" fill="#c0c0c0"/>
<rect x="381" y="435" width="3" height="8" fill="#c0c0c0"/>
<rect x="385" y="435" width="3" height="9" fill="#c0c0c0"/>
<rect x="389" y="435" width="3" height="9" fill="#c0c0c0"/>
<rect x="393" y="435" width="3" height="10" fill="#c0c0c0"/>
<rect x="397" y="435" width="3" height="10" fill="#c0c0c0"/>
<rect x="401" y="435" width="3" height="11" fill="#c0c0c0"/>
<rect x="405" y="435" width="3" height="11" fill="#c0c0c0"/>
<rect x="409" y="435" width="3" height="13" fill="#c0c0c0"/>
<rect x="413" y="435" width="3" height="14" fill="#c0c0c0"/>
<rect x="417" y="435" width="3" height="16" fill="#c0c0c0"/>
<rect x="421" y="435" width="3" height="18" fill="#c0c0c0"/>
<rect x="425" y="435" width="3" height="19" fill="#c0c0c0"/>
<rect x="429" y="435" width="3" height="18" fill="#c0c0c0"/>
<rect x="433" y="435" width="3" height="17" fill="#c0c0c0"/>
<rect x="437" y="435" width="3" height="15" fill="#c0c0c0"/>
<rect x="441" y="435" width="3" height="15" fill="#c0c0c0"/>
<rect x="445" y="435" width="3" height="14" fill="#c0c0c0"/>
<rect x="449" y="435" width="3" height="13" fill="#c0c0c0"/>
<rect x="453" y="435" width="3" height="11" fill="#c0c0c0"/>
<rect x="457" y="435" width="3" height="10" fill="#c0c0c0"/>
<rect x="461" y="435" width="3" height="9" fill="#c0c0c0"/>
<rect x="465" y="435" width="3" height="8" fill="#c0c0c0"/>
<rect x="469" y="435" width="3" height="7" fill="#c0c0c0"/>
<rect x="473" y="435" width="3" height="7" fill="#c0c0c0"/>
<rect x="477" y="435" width="3" height="6" fill="#c0c0c0"/>
<rect x="481" y="435" width="3" height="6" fill="#c0c0c0"/>
<rect x="485" y="435" width="3" height="5" fill="#c0c0c0"/>
<rect x="489" y="435" width="3" height="4" fill="#c0c0c0"/>
<rect x="493" y="435" width="3" height="2" fill="#c0c0c0"/>
<rect x="497" y="435" width="3" height="1" fill="#c0c0c0"/>
<rect x="501" y="435" width="3" height="1" fill="#c0c0c0"/>
<rect x="505" y="435" width="3" height="1" fill="#c0c0c0"/>
<rect x="509" y="435" width="3" height="1" fill="#c0c0c0"/>
<rect x="513" y="435" width="3" height="1" fill="#c0c0c0"/>
<rect x="517" y="435" width="3" height="1" fill="#c0c0c0"/>
<rect x="521" y="435" width="3" height="6" fill="#c0c0c0"/>
<rect x="525" y="435" width="3" height="7" fill="#c0c0c0"/>
<rect x="529" y="435" width="3" height="7" fill="#c0c0c0"/>
<rect x="533" y="435" width="3" height="8" fill="#c0c0c0"/>
<rect x="537" y="435" width="3" height="8" fill="#c0c0c0"/>
<rect x="541" y="435" width="3" height="8" fill="#c0c0c0"/>
<rect x="545" y="435" width="3" height="8" fill="#c0c0c0"/>
<rect x="549" y="435" width="3" height="8" fill="#c0c0c0"/>
<rect x="553" y="435" width="3" height="8" fill="#c0c0c0"/>
<rect x="557" y="435" width="3" height="8" fill="#c0c0c0"/>
<rect x="561" y="435" width="3" height="8" fill="#c0c0c0"/>
<rect x="565" y="435" width="3" height="8" fill="#c0c0c0"/>
<rect x="569" y="435" width="3" height="8" fill="#c0c0c0"/>
<rect x="573" y="435" width="3" height="9" fill="#c0c0c0"/>
<rect x="577" y="435" width="3" height="10" fill="#c0c0c0"/>
<rect x="581" y="435" width="3" height="11" fill="#c0c0c0"/>
<rect x="585" y="435" width="3" height="11" fill="#c0c0c0"/>
<rect x="589" y="435" width="3" height="11" fill="#c0c0c0"/>
<rect x="593" y="435" width="3" height="12" fill="#c0c0c0"/>
<rect x="597" y="435" width="3" height="13" fill="#c0c0c0"/>
<rect x="601" y="435" width="3" height="14" fill="#c0c0c0"/>
<rect x="605" y="435" width="3" height="16" fill="#c0c0c0"/>
<rect x="609" y="435" width="3" height="18" fill="#c0c0c0"/>
<rect x="613" y="435" width="3" height="19" fill="#c0c0c0"/>
<rect x="617" y="435" width="3" height="19" fill="#c0c0c0"/>
<rect x="621" y="435" width="3" height="21" fill="#c0c0c0"/>
<rect x="625" y="435" width="3" height="22" fill="#c0c0c0"/>
<rect x="629" y="435" width="3" height="23" fill="#c0c0c0"/>
<rect x="633" y="435" width="3" height="24" fill="#c0c0c0"/>
<rect x="637" y="435" width="3" height="22" fill="#c0c0c0"/>
<rect x="641" y="435" width="3" height="17" fill="#c0c0c0"/>
<rect x="645" y="435" width="3" height="14" fill="#c0c0c0"/>
<rect x="649" y="435" width="3" height="9" fill="#c0c0c0"/>
<rect x="653" y="435" width="3" height="7" fill="#c0c0c0"/>
<rect x="657" y="435" width="3" height="4" fill="#c0c0c0"/>
<rect x="661" y="435" width="3" height="2" fill="#c0c0c0"/>
<rect x="665" y="433" width="3" height="2" fill="#c0c0c0"/>
<rect x="669" y="430" width="3" height="5" fill="#c0c0c0"/>
<rect x="673" y="429" width="3" height="6" fill="#c0c0c0"/>
<rect x="677" y="429" width="3" height="6" fill="#c0c0c0"/>
<rect x="681" y="429" width="3" height="6" fill="#c0c0c0"/>
<rect x="685" y="427" width="3" height="8" fill="#c0c0c0"/>
<rect x="689" y="428" width="3" height="7" fill="#c0c0c0"/>
<rect x="693" y="429" width="3" height="6" fill="#c0c0c0"/>
<rect x="697" y="429" width="3" height="6" fill="#c0c0c0"/>
<rect x="701" y="428" width="3" height="7" fill="#c0c0c0"/>
<rect x="705" y="428" width="3" height="7" fill="#c0c0c0"/>
<rect x="709" y="428" width="3" height="7" fill="#c0c0c0"/>
<rect x="713" y="428" width="3" height="7" fill="#c0c0c0"/>
<rect x="717" y="427" width="3" height="8" fill="#c0c0c0"/>
<rect x="721" y="424" width="3" height="11" fill="#c0c0c0"/>
<rect x="725" y="423" width="3" height="12" fill="#c0c0c0"/>
<rect x="729" y="423" width="3" height="12" fill="#c0c0c0"/>
<rect x="733" y="423" width="3" height="12" fill="#c0c0c0"/>
<rect x="737" y="423" width="3" height="12" fill="#c0c0c0"/>
<rect x="741" y="423" width="3" height="12" fill="#c0c0c0"/>
<rect x="745" y="424" width="3" height="11" fill="#c0c0c0"/>
<rect x="749" y="430" width="3" height="5" fill="#c0c0c0"/>
<rect x="753" y="433" width="3" height="2" fill="#c0c0c0"/>
<rect x="757" y="435" width="3" height="2" fill="#c0c0c0"/>
<rect x="761" y="435" width="3" height="4" fill="#c0c0c0"/>
<rect x="765" y="435" width="3" height="5" fill="#c0c0c0"/>
<rect x="769" y="435" width="3" height="7" fill="#c0c0c0"/>
<rect x="773" y="435" width="3" height="7" fill="#c0c0c0"/>
<rect x="777" y="435" width="3" height="5" fill="#c0c0c0"/>
<rect x="781" y="435" width="3" height="3" fill="#c0c0c0"/>
<rect x="785" y="433" width="3" height="2" fill="#c0c0c0"/>
<rect x="789" y="432" width="3" height="3" fill="#c0c0c0"/>
<rect x="793" y="430" width="3" height="5" fill="#c0c0c0"/>
<rect x="797" y="427" width="3" height="8" fill="#c0c0c0"/>
<rect x="801" y="421" width="3" height="14" fill="#c0c0c0"/>
<rect x="805" y="416" width="3" height="19" fill="#c0c0c0"/>
<rect x="809" y="414" width="3" height="21" fill="#c0c0c0"/>
<rect x="813" y="414" width="3" height="21" fill="#c0c0c0"/>
<rect x="817" y="412" width="3" height="23" fill="#c0c0c0"/>
<rect x="821" y="413" width="3" height="22" fill="#c0c0c0"/>
<rect x="825" y="414" width="3" height="21" fill="#c0c0c0"/>
<rect x="829" y="414" width="3" height="21" fill="#c0c0c0"/>
<rect x="833" y="414" width="3" height="21" fill="#c0c0c0"/>
<rect x="837" y="414" width="3" height="21" fill="#c0c0c0"/>
<rect x="841" y="414" width="3" height="21" fill="#c0c0c0"/>
<rect x="845" y="415" width="3" height="20" fill="#c0c0c0"/>
<rect x="849" y="416" width="3" height="19" fill="#c0c0c0"/>
<rect x="853" y="417" width="3" height="18" fill="#c0c0c0"/>
<rect x="857" y="419" width="3" height="16" fill="#c0c0c0"/>
<rect x="861" y="421" width="3" height="14" fill="#c0c0c0"/>
<rect x="865" y="423" width="3" height="12" fill="#c0c0c0"/>
<rect x="869" y="426" width="3" height="9" fill="#c0c0c0"/>
<rect x="873" y="428" width="3" height="7" fill="#c0c0c0"/>
<rect x="877" y="428" width="3" height="7" fill="#c0c0c0"/>
<rect x="881" y="429" width="3" height="6" fill="#c0c0c0"/>
<rect x="885" y="429" width="3" height="6" fill="#c0c0c0"/>
<rect x="889" y="428" width="3" height="7" fill="#c0c0c0"/>
<rect x="893" y="428" width="3" height="7" fill="#c0c0c0"/>
<rect x="897" y="427" width="3" height="8" fill="#c0c0c0"/>
<rect x="901" y="427" width="3" height="8" fill="#c0c0c0"/>
<rect x="905" y="428" width="3" height="7" fill="#c0c0c0"/>
<rect x="909" y="428" width="3" height="7" fill="#c0c0c0"/>
<rect x="913" y="428" width="3" height="7" fill="#c0c0c0"/>
<rect x="917" y="428" width="3" height="7" fill="#c0c0c0"/>
<rect x="921" y="427" width="3" height="8" fill="#c0c0c0"/>
<rect x="925" y="425" width="3" height="10" fill="#c0c0c0"/>
<polyline points="6,415.4 15.6,417.5 25.7,422.6 39,429.2 46.8,431.6 54.6,435.1 57.7,436.3 65.5,437.2 132.5,437.2 141,435.6 148.2,432.5 152,429.5 155.9,425.9 163.6,419.6 171.2,413.2 178.9,407.3 186.6,404.7 194.2,403.7 201.9,405.5 212.1,405.2 222.3,404.2 230,402.2 237.7,400.4 245.3,400.9 253,404.2 260.7,408.8 268.3,413.9 276,419.6 283.7,423.4 291.3,426.7 299,428.5 310.2,429.3 317.9,427.2 328.1,426.7 347.3,425.9 354.9,428 363.9,431.8 372.8,434.4 381.8,438 392,440.8 402.2,442 412.4,443.8 422.7,446.4 430.3,448.2 438,450.2 453.3,450.2 463.6,447.2 476.3,443.8 489.1,440.8 499.3,439.2 509.6,437.4 524.9,437.4 535.1,439.2 545.3,441.3 555.6,442 576,442.6 586.2,443.3 596.4,444.6 604.1,445.9 608.4,447.3 619.6,450.1 630.8,453.7 642,455.1 653.3,452.9 661.7,448.7 670.1,441.7 678.5,436.6 686.9,432.7 695.3,429.9 706.5,428.5 720.5,428.2 731.7,426.2 745.8,424.8 754.2,425.4 762.6,428.2 771,431.8 779.4,436 786.4,438.3 796.2,436.9 804.6,430.4 813,424.8 824.2,418.7 834,414.5 842.5,413.6 852.3,415 863.5,417.8 874.7,422 883.1,424.8 890.1,427.6 899.9,428.5 913.9,428.5 925.2,428.2" fill="none" stroke="#ff0000" stroke-width="1" shape-rendering="crispEdges" stroke-linejoin="round" />
</g>
<text x="10" y="407" font-size="10.2" fill="#000" textLength="65.5" lengthAdjust="spacingAndGlyphs"  text-rendering="geometricPrecision">MACD(12,26,9)</text>
<text x="78.7" y="407" font-size="10.2" fill="#000" textLength="78.3" lengthAdjust="spacingAndGlyphs"  text-rendering="geometricPrecision">0.014684 0.010961</text>
<text x="1172.2" y="405" font-size="10.2" fill="#000" textLength="37.5" lengthAdjust="spacingAndGlyphs"  text-rendering="geometricPrecision">0.060657</text>
<text x="1172.2" y="439" font-size="10.2" fill="#000" textLength="17.5" lengthAdjust="spacingAndGlyphs"  text-rendering="geometricPrecision">0.00</text>
<text x="1172.2" y="458.5" font-size="10.2" fill="#000" textLength="41.5" lengthAdjust="spacingAndGlyphs"  text-rendering="geometricPrecision">-0.039792</text>
<rect x="1169" y="435" width="2" height="1" fill="#000"/>
<rect x="1169" y="396" width="1" height="1" fill="#000"/>
<clipPath id="c3"><rect x="6" y="464" width="1162" height="68"/></clipPath>
<g clip-path="url(#c3)">
<path d="M7 485.5H1168M7 511.5H1168" stroke="#c0c0c0" stroke-width="1" stroke-dasharray="3 3" fill="none"/>
<polyline points="6,489.4 10,490.2 14.5,500.5 18.5,500.7 22.4,506.5 26.4,505.2 34.3,500.5 38.3,500.5 42.2,503.1 46.2,503.4 50.7,506.5 54.1,499.4 58,499.1 62,501.3 66.5,496 69.9,497.8 73.9,496.2 79.2,501.3 85.8,499.4 89.7,501.3 93.7,499.1 98.9,500.5 101.6,501.5 106.9,498.1 113.5,498.1 118.7,501.5 122.7,501.5 129.3,496 134.6,495.2 138.5,489.4 142.5,480.9 146.4,479.4 150.4,472.2 154.4,484.9 158.3,482.8 162.3,484.1 165.7,483.1 170.2,483.1 174.1,494.1 178.1,491.5 186,491.2 191.3,489.4 197.9,489.9 203.2,487.5 209.8,483.3 217.7,483.3 223,487.5 226.9,485.4 230.9,484.1 234.8,486.7 238.8,491.5 242.7,492 246.7,496.2 250.7,495.2 255.9,496.8 261.2,501.3 265.2,503.4 270.4,501.3 274.4,498.6 279.7,497.8 286.3,494.7 290.2,495.2 294.2,496.5 298.2,493.6 302.1,493.1 306.1,491.2 318.4,491.2 326.4,498.1 333.7,491.5 338.2,491.2 343,500.7 349.6,504.4 357.5,499.4 364.1,503.1 369.4,503.4 374.1,502 378.1,504.4 382.6,502 386.5,505.2 393.9,502.6 398.4,505.2 403.7,505.2 408.9,507.3 414.2,511.3 418.2,508.4 422.1,513.1 431.4,504.7 438,501.3 441.9,502 446.7,505.2 452.5,500.5 457.8,497.3 462.5,500.5 467,498.1 474.9,502 481.5,499.4 486.8,499.1 490.7,497.3 494.2,492.6 500,496.8 506.6,501.3 510.6,498.1 514.5,499.9 518.4,500.5 522.9,511.8 526.9,501.3 534.3,502.6 539.6,501.5 550.1,500.5 558,502.6 568,502.6 574.6,508.4 578.6,506 583.1,507.1 589.7,504.4 595,508.6 602.9,511.3 610.8,516.6 614.7,510.5 620,511.8 626.6,514.5 630.6,512.6 634.5,504.4 638.5,503.1 642.4,500.7 646.4,499.1 650.3,491.5 654.8,495.5 658.3,494.7 662.7,491.5 670.1,488.6 674.6,492.6 678.6,495.5 682.5,495.5 686.5,491.5 689.9,496 694.4,498.6 698.6,495.5 705.8,494.7 709.7,495.5 715,493.3 719,492.6 722.9,487.3 726.9,489.4 733.5,492 737.4,492.8 741.4,494.7 745.3,499.1 750.6,504.4 755.9,506.5 758.5,508.4 762.5,505.7 766.4,506.5 771.7,503.1 778.3,499.1 782.3,491.5 786.2,490.2 791,494.1 795.5,491.5 799.4,488.1 802.6,480.9 806,485.4 810,488.1 814.7,493.3 818.4,489.4 822.6,494.7 827.1,493.3 830.6,491.5 834.2,494.1 838.5,491.5 843,494.7 848.2,493.3 854.8,498.6 864.1,498.1 870.1,500.7 874.6,496.5 882.5,496.5 890.4,493.3 895.7,493.3 899.7,495.5 903.6,494.1 910.2,496 914.7,499.4 919.5,494.1 922.6,489.4 926.1,488.1" fill="none" stroke="#1e90ff" stroke-width="1" shape-rendering="crispEdges" stroke-linejoin="round" />
</g>
<text x="10" y="476" font-size="10.2" fill="#000" textLength="32" lengthAdjust="spacingAndGlyphs"  text-rendering="geometricPrecision">RSI(14)</text>
<text x="45" y="476" font-size="10.2" fill="#000" textLength="33.3" lengthAdjust="spacingAndGlyphs"  text-rendering="geometricPrecision">64.4450</text>
<text x="1172.2" y="474" font-size="10.2" fill="#000" textLength="14.5" lengthAdjust="spacingAndGlyphs"  text-rendering="geometricPrecision">100</text>
<text x="1172.2" y="489" font-size="10.2" fill="#000" textLength="9.5" lengthAdjust="spacingAndGlyphs"  text-rendering="geometricPrecision">70</text>
<text x="1172.2" y="515" font-size="10.2" fill="#000" textLength="9.5" lengthAdjust="spacingAndGlyphs"  text-rendering="geometricPrecision">30</text>
<text x="1172.2" y="529" font-size="10.2" fill="#000" textLength="5" lengthAdjust="spacingAndGlyphs"  text-rendering="geometricPrecision">0</text>
<rect x="6" y="533" width="1" height="3" fill="#000"/>
<text x="5.5" y="545" font-size="10.2" fill="#000" textLength="49.5" lengthAdjust="spacingAndGlyphs"  text-rendering="geometricPrecision">14 Jun 2019</text>
<rect x="70" y="533" width="1" height="3" fill="#000"/>
<text x="69.5" y="545" font-size="10.2" fill="#000" textLength="42" lengthAdjust="spacingAndGlyphs"  text-rendering="geometricPrecision">8 Jul 2019</text>
<rect x="134" y="533" width="1" height="3" fill="#000"/>
<text x="133.5" y="545" font-size="10.2" fill="#000" textLength="47" lengthAdjust="spacingAndGlyphs"  text-rendering="geometricPrecision">30 Jul 2019</text>
<rect x="198" y="533" width="1" height="3" fill="#000"/>
<text x="197.5" y="545" font-size="10.2" fill="#000" textLength="52" lengthAdjust="spacingAndGlyphs"  text-rendering="geometricPrecision">21 Aug 2019</text>
<rect x="262" y="533" width="1" height="3" fill="#000"/>
<text x="261.5" y="545" font-size="10.2" fill="#000" textLength="50.5" lengthAdjust="spacingAndGlyphs"  text-rendering="geometricPrecision">12 Sep 2019</text>
<rect x="326" y="533" width="1" height="3" fill="#000"/>
<text x="325.5" y="545" font-size="10.2" fill="#000" textLength="46" lengthAdjust="spacingAndGlyphs"  text-rendering="geometricPrecision">4 Oct 2019</text>
<rect x="390" y="533" width="1" height="3" fill="#000"/>
<text x="389.5" y="545" font-size="10.2" fill="#000" textLength="50.5" lengthAdjust="spacingAndGlyphs"  text-rendering="geometricPrecision">28 Oct 2019</text>
<rect x="454" y="533" width="1" height="3" fill="#000"/>
<text x="453.5" y="545" font-size="10.2" fill="#000" textLength="52.5" lengthAdjust="spacingAndGlyphs"  text-rendering="geometricPrecision">19 Nov 2019</text>
<rect x="518" y="533" width="1" height="3" fill="#000"/>
<text x="517.5" y="545" font-size="10.2" fill="#000" textLength="51.5" lengthAdjust="spacingAndGlyphs"  text-rendering="geometricPrecision">11 Dec 2019</text>
<rect x="582" y="533" width="1" height="3" fill="#000"/>
<text x="581.5" y="545" font-size="10.2" fill="#000" textLength="45.5" lengthAdjust="spacingAndGlyphs"  text-rendering="geometricPrecision">2 Jan 2020</text>
<rect x="646" y="533" width="1" height="3" fill="#000"/>
<text x="645.5" y="545" font-size="10.2" fill="#000" textLength="49.5" lengthAdjust="spacingAndGlyphs"  text-rendering="geometricPrecision">24 Jan 2020</text>
<rect x="710" y="533" width="1" height="3" fill="#000"/>
<text x="709.5" y="545" font-size="10.2" fill="#000" textLength="51.5" lengthAdjust="spacingAndGlyphs"  text-rendering="geometricPrecision">17 Feb 2020</text>
<rect x="774" y="533" width="1" height="3" fill="#000"/>
<text x="773.5" y="545" font-size="10.2" fill="#000" textLength="52" lengthAdjust="spacingAndGlyphs"  text-rendering="geometricPrecision">10 Mar 2020</text>
<rect x="838" y="533" width="1" height="3" fill="#000"/>
<text x="837.5" y="545" font-size="10.2" fill="#000" textLength="45" lengthAdjust="spacingAndGlyphs"  text-rendering="geometricPrecision">1 Apr 2020</text>
<rect x="902" y="533" width="1" height="3" fill="#000"/>
<text x="901.5" y="545" font-size="10.2" fill="#000" textLength="50.5" lengthAdjust="spacingAndGlyphs"  text-rendering="geometricPrecision">24 Apr 2020</text>
<rect x="0" y="553" width="1213" height="24" fill="#f0f0f0"/>
<rect x="0" y="553" width="1213" height="1" fill="#dcdcdc"/>
<rect x="0" y="575" width="1213" height="2" fill="#f9f9f9"/>
<rect x="1" y="555" width="1015" height="1" fill="#202020"/>
<rect x="1126" y="555" width="87" height="1" fill="#000"/>
<rect x="1016" y="554" width="110" height="19" fill="#fff"/>
<rect x="1015" y="555" width="1" height="19" fill="#000"/><rect x="1126" y="555" width="1" height="19" fill="#000"/><rect x="1015" y="573" width="112" height="1" fill="#000"/>
<rect x="0" y="556" width="1" height="19" fill="#e6e6e6"/><rect x="1" y="556" width="1" height="18" fill="#8a8a8a"/><rect x="2" y="556" width="1" height="18" fill="#a6a6a6"/>
<text x="18" y="570" font-size="12" fill="#6a6a6a" textLength="85" lengthAdjust="spacingAndGlyphs" >EURUSD-,Daily</text>
<text x="127" y="570" font-size="12" fill="#6a6a6a" textLength="68" lengthAdjust="spacingAndGlyphs" >USDJPY-,H4</text>
<text x="219" y="570" font-size="12" fill="#6a6a6a" textLength="52" lengthAdjust="spacingAndGlyphs" >DJ30-,H4</text>
<text x="295" y="570" font-size="12" fill="#6a6a6a" textLength="84" lengthAdjust="spacingAndGlyphs" >USDCHF-,Daily</text>
<text x="401" y="570" font-size="12" fill="#6a6a6a" textLength="55" lengthAdjust="spacingAndGlyphs" >HK50-,H1</text>
<text x="477" y="570" font-size="12" fill="#6a6a6a" textLength="67" lengthAdjust="spacingAndGlyphs" >GBPJPY-,H1</text>
<text x="567" y="570" font-size="12" fill="#6a6a6a" textLength="68" lengthAdjust="spacingAndGlyphs" >CADJPY-,H1</text>
<text x="657" y="570" font-size="12" fill="#6a6a6a" textLength="70" lengthAdjust="spacingAndGlyphs" >EURCHF-,H1</text>
<text x="749" y="570" font-size="12" fill="#6a6a6a" textLength="68" lengthAdjust="spacingAndGlyphs" >JPN225-,H4</text>
<text x="839" y="570" font-size="12" fill="#6a6a6a" textLength="55" lengthAdjust="spacingAndGlyphs" >USOil-,H1</text>
<text x="918" y="570" font-size="12" fill="#6a6a6a" textLength="86" lengthAdjust="spacingAndGlyphs" >USDCAD-,Daily</text>
<rect x="115" y="558" width="1" height="14" fill="#909090"/>
<rect x="207" y="558" width="1" height="14" fill="#909090"/>
<rect x="284" y="558" width="1" height="14" fill="#909090"/>
<rect x="391" y="558" width="1" height="14" fill="#909090"/>
<rect x="467" y="558" width="1" height="14" fill="#909090"/>
<rect x="555" y="558" width="1" height="14" fill="#909090"/>
<rect x="647" y="558" width="1" height="14" fill="#909090"/>
<rect x="739" y="558" width="1" height="14" fill="#909090"/>
<rect x="827" y="558" width="1" height="14" fill="#909090"/>
<rect x="907" y="558" width="1" height="14" fill="#909090"/>
<text x="1027" y="570" font-size="12" fill="#000" textLength="88" lengthAdjust="spacingAndGlyphs" >USDCNH-,Daily</text>
<text x="1137" y="570" font-size="12" fill="#6a6a6a" textLength="41" lengthAdjust="spacingAndGlyphs" >AUDUS</text>
<path d="M1187.3 560.5 L1183.5 563.5 L1187.3 566.5Z" fill="#000" shape-rendering="geometricPrecision"/>
<path d="M1202.7 560.5 L1206.5 563.5 L1202.7 566.5Z" fill="#000" shape-rendering="geometricPrecision"/>
</svg></body></html>
